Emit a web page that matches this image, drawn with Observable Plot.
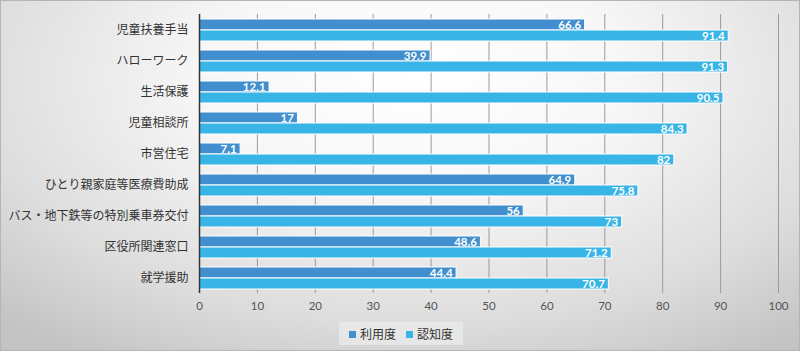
<!DOCTYPE html>
<html><head><meta charset="utf-8">
<script src="https://cdn.jsdelivr.net/npm/d3@7"></script>
<script src="https://cdn.jsdelivr.net/npm/@observablehq/plot@0.6"></script>
<style>
html,body{margin:0;padding:0;}
#wrap{width:800px;height:351px;box-sizing:border-box;border:1px solid #b5b5b5;position:relative;overflow:hidden;
 background:radial-gradient(ellipse 75% 95% at 52% 22%, #ffffff 0%, #f7f7f7 35%, #dcdcdc 75%, #c4c4c4 100%);
 font-family:"Noto Sans CJK JP","Noto Sans",sans-serif;}
#chart svg{background:transparent;display:block;}
#legend{position:absolute;left:338px;top:321px;width:124px;height:23px;background:rgba(235,235,235,0.75);
 display:flex;align-items:center;justify-content:center;gap:10px;font-size:12px;color:#333;}
#legend span.sw{display:inline-block;width:7px;height:7px;margin-right:4px;vertical-align:middle;position:relative;top:-1px;}
</style></head>
<body><div id="wrap"><div id="chart"></div><div id="legend"></div></div>
<script>
const categories = ["児童扶養手当","ハローワーク","生活保護","児童相談所","市営住宅","ひとり親家庭等医療費助成","バス・地下鉄等の特別乗車券交付","区役所関連窓口","就学援助"];
const series = ["利用度","認知度"];
const usage = [66.6,39.9,12.1,17,7.1,64.9,56,48.6,44.4];
const awareness = [91.4,91.3,90.5,84.3,82,75.8,73,71.2,70.7];
const xTicks = [0,10,20,30,40,50,60,70,80,90,100];
const colors = ["#418fce","#38b5e6"];

const data = [];
categories.forEach((c,i)=>{
  data.push({category:c, series:series[0], value:usage[i]});
  data.push({category:c, series:series[1], value:awareness[i]});
});

const chart = Plot.plot({
  width: 798, height: 318,
  marginLeft: 198, marginRight: 21, marginTop: 11, marginBottom: 24,
  style:{fontFamily:'"Noto Sans CJK JP","Noto Sans",sans-serif', background:"transparent"},
  x:{domain:[0,100]},
  fy:{domain:categories, padding:0},
  y:{domain:series, paddingOuter:0.36, paddingInner:0.04, axis:null},
  color:{domain:series, range:colors},
  marks:[
    Plot.ruleX(xTicks.filter(d=>d>0), {stroke:"#9a9a9a", strokeWidth:1}),
    Plot.barX(data, {x:"value", y:"series", fy:"category", fill:"series", stroke:"white", strokeWidth:1}),
    Plot.ruleX([0], {stroke:"#333", strokeWidth:1.5}),
    Plot.text(data, {x:"value", y:"series", fy:"category", text:d=>String(d.value), textAnchor:"end", dx:-4, dy:0.5,
      fill:"white", fontWeight:"bold", fontSize:11.5, fontFamily:"Lato, sans-serif"}),
    Plot.axisFy({anchor:"left", tickSize:0, tickPadding:11, label:null, fontSize:12, color:"#333"}),
    Plot.axisX(xTicks, {anchor:"bottom", tickSize:0, tickPadding:8, label:null, fontSize:11.5, color:"#555", fontFamily:"Lato, sans-serif"})
  ]
});
document.getElementById("chart").appendChild(chart);

const lg = document.getElementById("legend");
series.forEach((s,i)=>{
  const d = document.createElement("div");
  d.innerHTML = `<span class="sw" style="background:${colors[i]}"></span>${s}`;
  lg.appendChild(d);
});
</script></body></html>
